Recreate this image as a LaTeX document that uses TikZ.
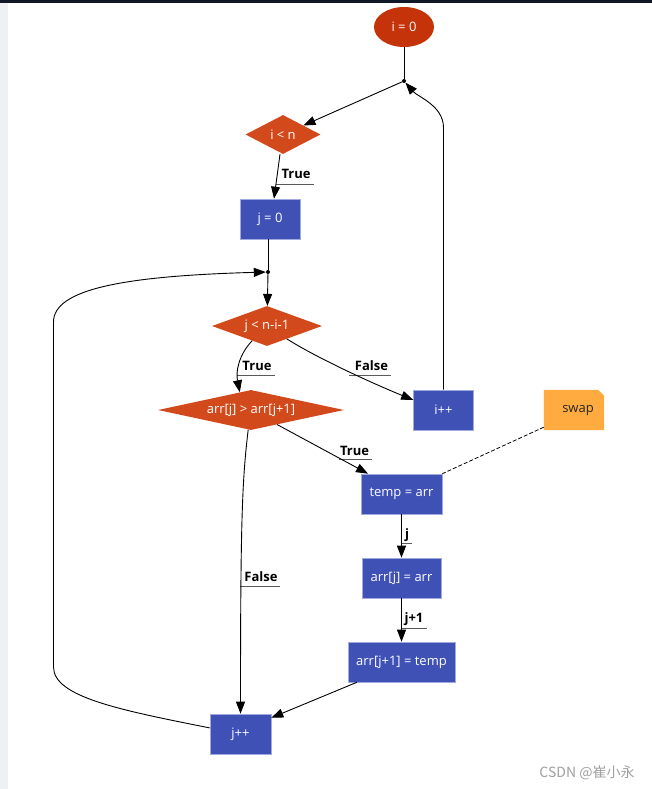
\documentclass[tikz,border=0pt]{standalone}
\usepackage{fontspec}
\setmainfont{Open Sans}
\newfontfamily\cjkfont{Noto Sans CJK SC}
\usetikzlibrary{shapes.geometric,arrows.meta,calc}
\pgfdeclarelayer{background}
\pgfsetlayers{background,main}
\definecolor{startred}{RGB}{196,51,10}
\definecolor{decorange}{RGB}{210,74,28}
\definecolor{procblue}{RGB}{63,81,181}
\definecolor{procedge}{RGB}{160,170,225}
\definecolor{noteorange}{RGB}{255,171,64}
\definecolor{topbar}{RGB}{16,24,40}
\definecolor{sidebar}{RGB}{238,240,243}
\definecolor{wmgray}{RGB}{160,160,160}
\tikzset{
  base/.style={font=\fontsize{13}{15}\selectfont, text=white, inner sep=0pt},
  startnode/.style={base, ellipse, fill=startred, minimum width=60pt, minimum height=40pt},
  decision/.style={base, diamond, fill=decorange},
  process/.style={base, rectangle, fill=procblue, draw=procedge, line width=0.6pt, minimum height=40pt},
  notenode/.style={font=\fontsize{13}{15}\selectfont, text=black!85, inner sep=0pt, minimum width=60pt, minimum height=40pt},
  junction/.style={circle, fill=black, inner sep=0pt, minimum size=4pt},
  flow/.style={draw=black, line width=0.9pt, -{Triangle[length=12pt,width=9pt]}},
  plainline/.style={draw=black, line width=0.9pt},
  elabel/.style={font=\bfseries\fontsize{13}{15}\selectfont, text=black, inner sep=0pt},
  uline/.style={draw=black!65, line width=1pt},
  notelink/.style={draw=black, line width=0.8pt, dash pattern=on 4pt off 2pt},
}
\begin{document}
\begin{tikzpicture}[x=1pt,y=-1pt]
\useasboundingbox (0,0) rectangle (652,789);

% nodes
\node[startnode] (i0) at (404,27) {i = 0};
\node[junction] (d1) at (404,81) {};
\node[decision, minimum width=75pt, minimum height=39pt, aspect=1.9] (iltn) at (283,134.5) {i < n};
\node[process, minimum width=60pt] (j0) at (270,219) {j = 0};
\node[junction] (d2) at (268,272) {};
\node[decision, minimum width=110pt, minimum height=40pt, aspect=2.75] (jlt) at (267,326) {j < n-i-1};
\node[decision, minimum width=186pt, minimum height=40pt, aspect=4.65] (cmp) at (251,410) {arr[j] > arr[j+1]};
\node[process, minimum width=60pt] (ipp) at (443.5,410) {i++};
\node[notenode] (swap) at (574,411) {\hspace*{8pt}swap};
\node[process, minimum width=81pt] (tmp) at (401.5,494) {temp = arr};
\node[process, minimum width=79pt] (arrj) at (401.5,578) {arr[j] = arr};
\node[process, minimum width=107pt] (arrj1) at (401.5,662) {arr[j+1] = temp};
\node[process, minimum width=61pt] (jpp) at (240.5,734) {j++};

\begin{pgfonlayer}{background}
\fill[white] (0,0) rectangle (652,789);
\fill[sidebar] (0,0) rectangle (8,789);
\fill[topbar] (0,0) rectangle (652,3);
\fill[noteorange] ([yshift=1pt]swap.south west) -- ([yshift=1pt]swap.north west) -- ([shift={(-6pt,1pt)}]swap.north east) -- ([yshift=-5pt]swap.north east) -- ([yshift=1pt]swap.south east) -- cycle;
\end{pgfonlayer}

% edge labels
\node[elabel] (t1) at (296,174) {True};
\node[elabel] (t2) at (257,366) {True};
\node[elabel] (f1) at (371.5,366) {False};
\node[elabel] (t3) at (354.5,450.5) {True};
\node[elabel] (lj) at (407,535) {j};
\node[elabel] (lj1) at (414,619) {j+1};
\node[elabel] (f2) at (261,577) {False};
\draw[uline] (276,184) -- (314,184);
\draw[uline] (237,375) -- (275,375);
\draw[uline] (349,375) -- (391,375);
\draw[uline] (339,459.5) -- (372,459.5);
\draw[uline] (402,543.5) -- (412,543.5);
\draw[uline] (402,628) -- (427,628);
\draw[uline] (240,586) -- (280,586);

% connectors
\draw[plainline] (i0) -- (d1);
\draw[flow] (d1) -- (iltn);
\draw[flow] ([xshift=-3pt]iltn.south) -- ([xshift=4pt]j0.north);
\draw[plainline] (j0.south -| d2) -- (d2);
\draw[flow] (d2) -- (jlt);
\draw[flow] ($(jlt.south)!0.27!(jlt.west)$) .. controls +(-14,15) and +(-4,-20) .. ($(cmp.north)!0.12!(cmp.west)$);
\draw[flow] ($(jlt.south)!0.36!(jlt.east)$) .. controls +(35,22) and +(-30,-12) .. ($(ipp.north west)!0.25!(ipp.south west)$);
\draw[flow] ($(cmp.south)!0.28!(cmp.east)$) -- ($(tmp.north west)!0.09!(tmp.north east)$);
\draw[flow] ($(cmp.south)!0.03!(cmp.west)$) .. controls +(-6,50) and +(0,-194) .. (jpp.north);
\draw[flow] (ipp.north) -- ($(ipp.north)+(0,-262)$) .. controls +(0,-22) and +(14,16) .. (d1);
\draw[flow] (tmp) -- (arrj);
\draw[flow] (arrj) -- (arrj1);
\draw[flow] ($(arrj1.south west)!0.085!(arrj1.south east)$) -- ($(jpp.north east)!0.1!(jpp.south east)$);
\draw[flow] ($(jpp.north west)!0.35!(jpp.south west)$) .. controls (120,710) and (53.5,697) .. (53.5,667) -- (53.5,322) .. controls (53.5,290) and (120,276) .. (d2);
\draw[notelink] ($(swap.south west)!0.1!(swap.north west)$) -- (tmp.north east);

% watermark
\node[text=wmgray, font=\cjkfont\fontsize{14}{16}\selectfont, inner sep=0pt] (wm) at (587,773) {CSDN @崔小永};
\end{tikzpicture}
\end{document}
